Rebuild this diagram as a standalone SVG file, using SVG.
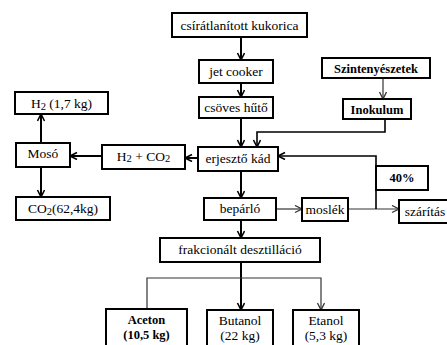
<svg xmlns="http://www.w3.org/2000/svg" width="447" height="345" viewBox="0 0 447 345">
<defs>
<marker id="ah" markerWidth="10" markerHeight="10" refX="8" refY="4" orient="auto" markerUnits="userSpaceOnUse">
<path d="M1,0.5 L8,4 L1,7.5" fill="none" stroke="#000" stroke-width="1.6"/>
</marker>
<marker id="ahg" markerWidth="10" markerHeight="10" refX="8" refY="4" orient="auto" markerUnits="userSpaceOnUse">
<path d="M1,0.5 L8,4 L1,7.5" fill="none" stroke="#333" stroke-width="1.3"/>
</marker>
</defs>
<style>
rect{fill:#fff;stroke:#000;stroke-width:2}
text{font-family:"Liberation Serif","Times New Roman",serif;font-size:13.5px;fill:#000;text-anchor:middle}
.b{font-weight:bold;font-size:12.5px}
.c{fill:none;stroke:#000;stroke-width:2}
.t{fill:none;stroke:#333;stroke-width:1.2}
</style>
<rect x="0" y="0" width="447" height="345" style="fill:#fff;stroke:none"/>
<g id="connectors">
<line class="c" x1="241" y1="37" x2="241" y2="60" marker-end="url(#ah)"/>
<line class="c" x1="241" y1="83" x2="241" y2="97" marker-end="url(#ah)"/>
<line class="c" x1="241" y1="118" x2="241" y2="147" marker-end="url(#ah)"/>
<line class="c" x1="241" y1="171" x2="241" y2="198" marker-end="url(#ah)"/>
<line class="c" x1="241" y1="220" x2="241" y2="238" marker-end="url(#ah)"/>
<line class="c" x1="241" y1="262" x2="241" y2="310" marker-end="url(#ah)"/>
<polyline class="t" points="147,309 147,278 321,278 321,310" marker-start="url(#ahg)" marker-end="url(#ahg)"/>
<line class="t" x1="383" y1="78" x2="383" y2="99" marker-end="url(#ahg)"/>
<polyline class="c" style="stroke-width:1.6" points="385,119 385,132 257,132 257,147" marker-end="url(#ah)"/>
<line class="c" x1="198" y1="158" x2="185" y2="158" marker-end="url(#ah)"/>
<line class="c" x1="102" y1="156" x2="70" y2="156" marker-end="url(#ah)"/>
<line class="c" x1="41" y1="143" x2="41" y2="114" marker-end="url(#ah)"/>
<line class="c" x1="41" y1="167" x2="41" y2="197" marker-end="url(#ah)"/>
<line class="t" x1="276" y1="209" x2="302" y2="209" marker-end="url(#ahg)"/>
<line class="t" x1="348" y1="209" x2="399" y2="209" marker-end="url(#ahg)"/>
<polyline class="c" style="stroke-width:1.6" points="376,209 376,156 278,156" marker-end="url(#ah)"/>
</g>
<g id="n-kukorica"><rect x="172" y="13" width="135" height="24"/><text x="239.5" y="29.5">csírátlanított kukorica</text></g>
<g id="n-jetcooker"><rect x="199" y="60" width="74" height="23"/><text x="236" y="76">jet cooker</text></g>
<g id="n-csoveshuto"><rect x="199" y="97" width="74" height="21"/><text x="236" y="112">csöves hűtő</text></g>
<g id="n-szinteny"><rect x="322" y="58" width="108" height="20"/><text class="b" x="376" y="73">Szintenyészetek</text></g>
<g id="n-inokulum"><rect x="343" y="99" width="68" height="20"/><text class="b" x="377" y="114">Inokulum</text></g>
<g id="n-h2"><rect x="15" y="92" width="93" height="22"/><text x="61.5" y="107.5">H<tspan font-size="10.5" dy="2">2</tspan><tspan dy="-2"> (1,7 kg)</tspan></text></g>
<g id="n-moso"><rect x="16" y="143" width="54" height="24"/><text x="43" y="158">Mosó</text></g>
<g id="n-h2co2"><rect x="102" y="145" width="83" height="24"/><text x="143.5" y="161">H<tspan font-size="10.5" dy="1">2</tspan><tspan dy="-1"> + CO</tspan><tspan font-size="10.5" dy="1">2</tspan></text></g>
<g id="n-erjeszto"><rect x="198" y="147" width="80" height="24"/><text x="238" y="163">erjesztő kád</text></g>
<g id="n-co2"><rect x="16" y="197" width="94" height="23"/><text x="63" y="213">CO<tspan font-size="10.5" dy="2">2</tspan><tspan dy="-2">(62,4kg)</tspan></text></g>
<g id="n-40"><rect x="376" y="166" width="52" height="24"/><text class="b" x="402" y="182">40%</text></g>
<g id="n-beparlo"><rect x="204" y="198" width="72" height="22"/><text x="240" y="213">bepárló</text></g>
<g id="n-moslek"><rect x="302" y="198" width="46" height="23"/><text x="325" y="214">moslék</text></g>
<g id="n-szaritas"><rect x="399" y="200" width="56" height="23"/><text x="425" y="216">szárítás</text></g>
<g id="n-frakcionalt"><rect x="160" y="238" width="160" height="24"/><text x="240" y="254">frakcionált desztilláció</text></g>
<g id="n-aceton"><rect x="106" y="309" width="81" height="42"/><text class="b" x="146.5" y="324">Aceton</text><text class="b" x="146.5" y="339">(10,5 kg)</text></g>
<g id="n-butanol"><rect x="207" y="310" width="66" height="42"/><text x="240" y="325">Butanol</text><text x="240" y="340">(22 kg)</text></g>
<g id="n-etanol"><rect x="293" y="310" width="66" height="42"/><text x="326" y="325">Etanol</text><text x="326" y="340">(5,3 kg)</text></g>
</svg>
